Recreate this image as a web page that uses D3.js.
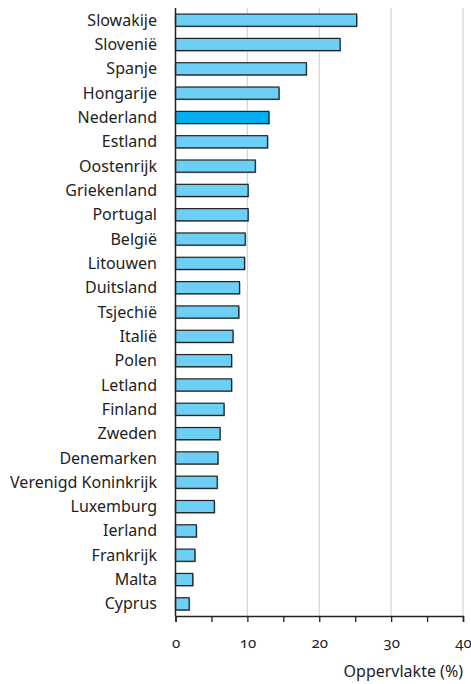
<!DOCTYPE html>
<html>
<head>
<meta charset="utf-8">
<script src="https://cdn.jsdelivr.net/npm/d3@7"></script>
<style>
  body { margin: 0; background: #fff; }
  text { font-family: "Noto Sans", "Open Sans", sans-serif; fill: #222; }
  .num { font-variant-numeric: oldstyle-nums; font-feature-settings: "onum"; }
</style>
</head>
<body>
<script>
// landen, gesorteerd van hoog naar laag
const landen = ["Slowakije", "Slovenië", "Spanje", "Hongarije", "Nederland", "Estland",
  "Oostenrijk", "Griekenland", "Portugal", "België", "Litouwen", "Duitsland", "Tsjechië",
  "Italië", "Polen", "Letland", "Finland", "Zweden", "Denemarken", "Verenigd Koninkrijk",
  "Luxemburg", "Ierland", "Frankrijk", "Malta", "Cyprus"];
const waarden = [25.2, 22.9, 18.2, 14.4, 13.0, 12.8, 11.1, 10.1, 10.1, 9.7, 9.6, 8.9, 8.8,
  8.0, 7.8, 7.8, 6.75, 6.2, 5.9, 5.8, 5.4, 2.9, 2.7, 2.4, 1.9];
const xTicks = [0, 10, 20, 30, 40];
const uitgelicht = "Nederland";

const width = 471, height = 684;
const margin = {top: 8, right: 8, bottom: 68, left: 175.5};

const data = landen.map((l, i) => ({land: l, waarde: waarden[i]}));

const svg = d3.select("body").append("svg")
    .attr("width", width)
    .attr("height", height);

let x = d3.scaleLinear().domain([0, 40]).range([margin.left, 463]);
let y = d3.scaleBand().domain(landen).range([margin.top, height - margin.bottom]).paddingInner(0.5).paddingOuter(0.25);

// gridlijnen
svg.append("g").selectAll("line").data(xTicks.slice(1)).enter().append("line")
    .attr("x1", d => x(d)).attr("x2", d => x(d))
    .attr("y1", margin.top).attr("y2", height - margin.bottom)
    .attr("stroke", "#d4d4d4").attr("stroke-width", 1.2);

// schaduw
svg.append("g").selectAll("rect").data(data).enter().append("rect")
    .attr("x", x(0) + 1)
    .attr("y", d => y(d.land) + 1)
    .attr("width", d => x(d.waarde) - x(0))
    .attr("height", y.bandwidth())
    .attr("fill", "#9a9a9a");

// balken
svg.append("g").selectAll("rect").data(data).enter().append("rect")
    .attr("x", x(0))
    .attr("y", d => y(d.land))
    .attr("width", d => x(d.waarde) - x(0))
    .attr("height", y.bandwidth())
    .attr("fill", d => d.land === uitgelicht ? "#00aeef" : "#6dcff6")
    .attr("stroke", "#222")
    .attr("stroke-width", 1.2);

// labels
svg.append("g").selectAll("text").data(data).enter().append("text")
    .attr("x", 157)
    .attr("y", d => y(d.land) + y.bandwidth() / 2)
    .attr("dy", "0.35em")
    .attr("text-anchor", "end")
    .attr("font-size", 16)
    .text(d => d.land);

// y-as lijn
svg.append("line")
    .attr("x1", x(0)).attr("x2", x(0))
    .attr("y1", margin.top).attr("y2", height - margin.bottom)
    .attr("stroke", "#222").attr("stroke-width", 1.5);

// x-as
let xAxis = d3.axisBottom(x).tickValues(d3.range(0, 41, 5)).tickSize(6).tickFormat(d => d % 10 === 0 ? d : "");
let gx = svg.append("g")
    .attr("transform", `translate(0,${height - margin.bottom})`)
    .call(xAxis);
gx.select(".domain").attr("stroke", "#222").attr("stroke-width", 1.5);
gx.selectAll(".tick line").attr("stroke", "#222").attr("stroke-width", 1.3);
gx.selectAll(".tick text")
    .attr("class", "num")
    .attr("y", 21)
    .attr("font-size", 15)
    .attr("font-family", null)
    .attr("fill", "#222");

svg.append("text")
    .attr("x", 463)
    .attr("y", 677)
    .attr("text-anchor", "end")
    .attr("font-size", 16)
    .text("Oppervlakte (%)");
</script>
</body>
</html>
